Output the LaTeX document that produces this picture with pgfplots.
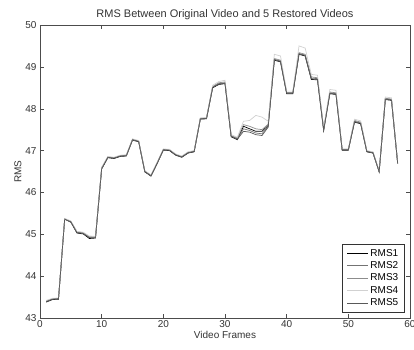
\documentclass[border=0pt]{standalone}
\usepackage{fontspec}
\setmainfont{Liberation Sans}
\usepackage{pgfplots}
\usepackage{pgfplotstable}
\pgfplotsset{compat=1.18}
\pgfplotstableread{
f  r1    r2    r3    r4    r5
1  43.38 43.40 43.41 43.42 43.39
2  43.44 43.45 43.46 43.47 43.45
3  43.45 43.46 43.47 43.48 43.46
4  45.36 45.37 45.37 45.38 45.36
5  45.29 45.30 45.31 45.32 45.30
6  45.03 45.05 45.06 45.07 45.04
7  45.01 45.03 45.04 45.05 45.02
8  44.90 44.93 44.94 44.96 44.92
9  44.91 44.93 44.94 44.95 44.92
10 46.56 46.58 46.59 46.60 46.57
11 46.83 46.84 46.85 46.86 46.84
12 46.81 46.82 46.83 46.84 46.82
13 46.86 46.87 46.88 46.89 46.87
14 46.87 46.88 46.89 46.90 46.88
15 47.25 47.26 47.27 47.28 47.26
16 47.21 47.22 47.23 47.24 47.22
17 46.49 46.50 46.51 46.52 46.50
18 46.39 46.40 46.41 46.42 46.40
19 46.69 46.70 46.71 46.72 46.70
20 47.01 47.02 47.03 47.04 47.02
21 47.00 47.01 47.02 47.03 47.01
22 46.89 46.90 46.91 46.92 46.90
23 46.84 46.85 46.86 46.87 46.85
24 46.94 46.95 46.96 46.97 46.95
25 46.97 46.98 46.99 47.00 46.98
26 47.75 47.76 47.77 47.78 47.76
27 47.76 47.77 47.78 47.79 47.77
28 48.50 48.52 48.53 48.56 48.51
29 48.58 48.60 48.62 48.65 48.59
30 48.60 48.62 48.64 48.68 48.61
31 47.33 47.35 47.36 47.38 47.34
32 47.26 47.28 47.30 47.32 47.27
33 47.58 47.52 47.62 47.70 47.46
34 47.52 47.48 47.58 47.72 47.44
35 47.46 47.42 47.52 47.84 47.38
36 47.46 47.40 47.50 47.80 47.36
37 47.60 47.58 47.63 47.70 47.56
38 49.16 49.18 49.20 49.30 49.17
39 49.12 49.14 49.16 49.26 49.13
40 48.36 48.38 48.39 48.42 48.37
41 48.36 48.38 48.39 48.42 48.37
42 49.30 49.32 49.34 49.50 49.31
43 49.26 49.28 49.30 49.45 49.27
44 48.70 48.73 48.76 48.82 48.71
45 48.69 48.72 48.74 48.80 48.70
46 47.48 47.50 47.52 47.54 47.49
47 48.36 48.38 48.40 48.46 48.37
48 48.34 48.36 48.38 48.44 48.35
49 47.01 47.02 47.03 47.04 47.02
50 47.01 47.02 47.03 47.04 47.02
51 47.68 47.70 47.72 47.75 47.69
52 47.64 47.66 47.68 47.71 47.65
53 46.97 46.98 46.99 47.00 46.98
54 46.94 46.95 46.96 46.97 46.95
55 46.49 46.50 46.51 46.52 46.50
56 48.22 48.24 48.25 48.28 48.23
57 48.20 48.22 48.23 48.26 48.21
58 46.69 46.70 46.71 46.72 46.70
}\datatable
\begin{document}
\begin{tikzpicture}
\begin{axis}[
  scale only axis,
  width=370pt, height=293pt,
  xmin=0, xmax=60, ymin=43, ymax=50,
  xtick={0,10,...,60}, ytick={43,44,...,50},
  tick align=inside, xtick pos=both, ytick pos=both,
  major tick length=4pt,
  axis line style={black!70},
  every tick/.style={black!70},
  tick label style={font=\fontsize{10}{11}\selectfont, text=black!80},
  xticklabel style={yshift=1pt},
  /pgf/number format/assume math mode=true,
  title={RMS Between Original Video and 5 Restored Videos},
  title style={font=\fontsize{11}{13}\selectfont, text=black!80, yshift=-4pt},
  xlabel={Video Frames}, ylabel={RMS},
  label style={font=\fontsize{10}{12}\selectfont, text=black!80},
  xlabel style={yshift=3pt},
  ylabel style={yshift=-3pt},
  legend style={font=\fontsize{10}{11}\selectfont, draw=black!80, at={(0.985,0.02)}, anchor=south east, row sep=0pt, inner xsep=4pt, inner ysep=2.5pt},
  legend cell align=left,
  legend image code/.code={\draw[#1, line width=0.8pt] (0cm,0cm) -- (21pt,0cm);},
  every axis plot/.append style={line width=0.7pt},
]
\addplot[black] table[x=f,y=r1]{\datatable};
\addlegendentry{RMS1}
\addplot[black!55] table[x=f,y=r2]{\datatable};
\addlegendentry{RMS2}
\addplot[black!45] table[x=f,y=r3]{\datatable};
\addlegendentry{RMS3}
\addplot[black!18] table[x=f,y=r4]{\datatable};
\addlegendentry{RMS4}
\addplot[black!65] table[x=f,y=r5]{\datatable};
\addlegendentry{RMS5}
\end{axis}
\pgfresetboundingbox
\path[use as bounding box] (-40pt,-31pt) rectangle (374pt,318pt);
\end{tikzpicture}
\end{document}
